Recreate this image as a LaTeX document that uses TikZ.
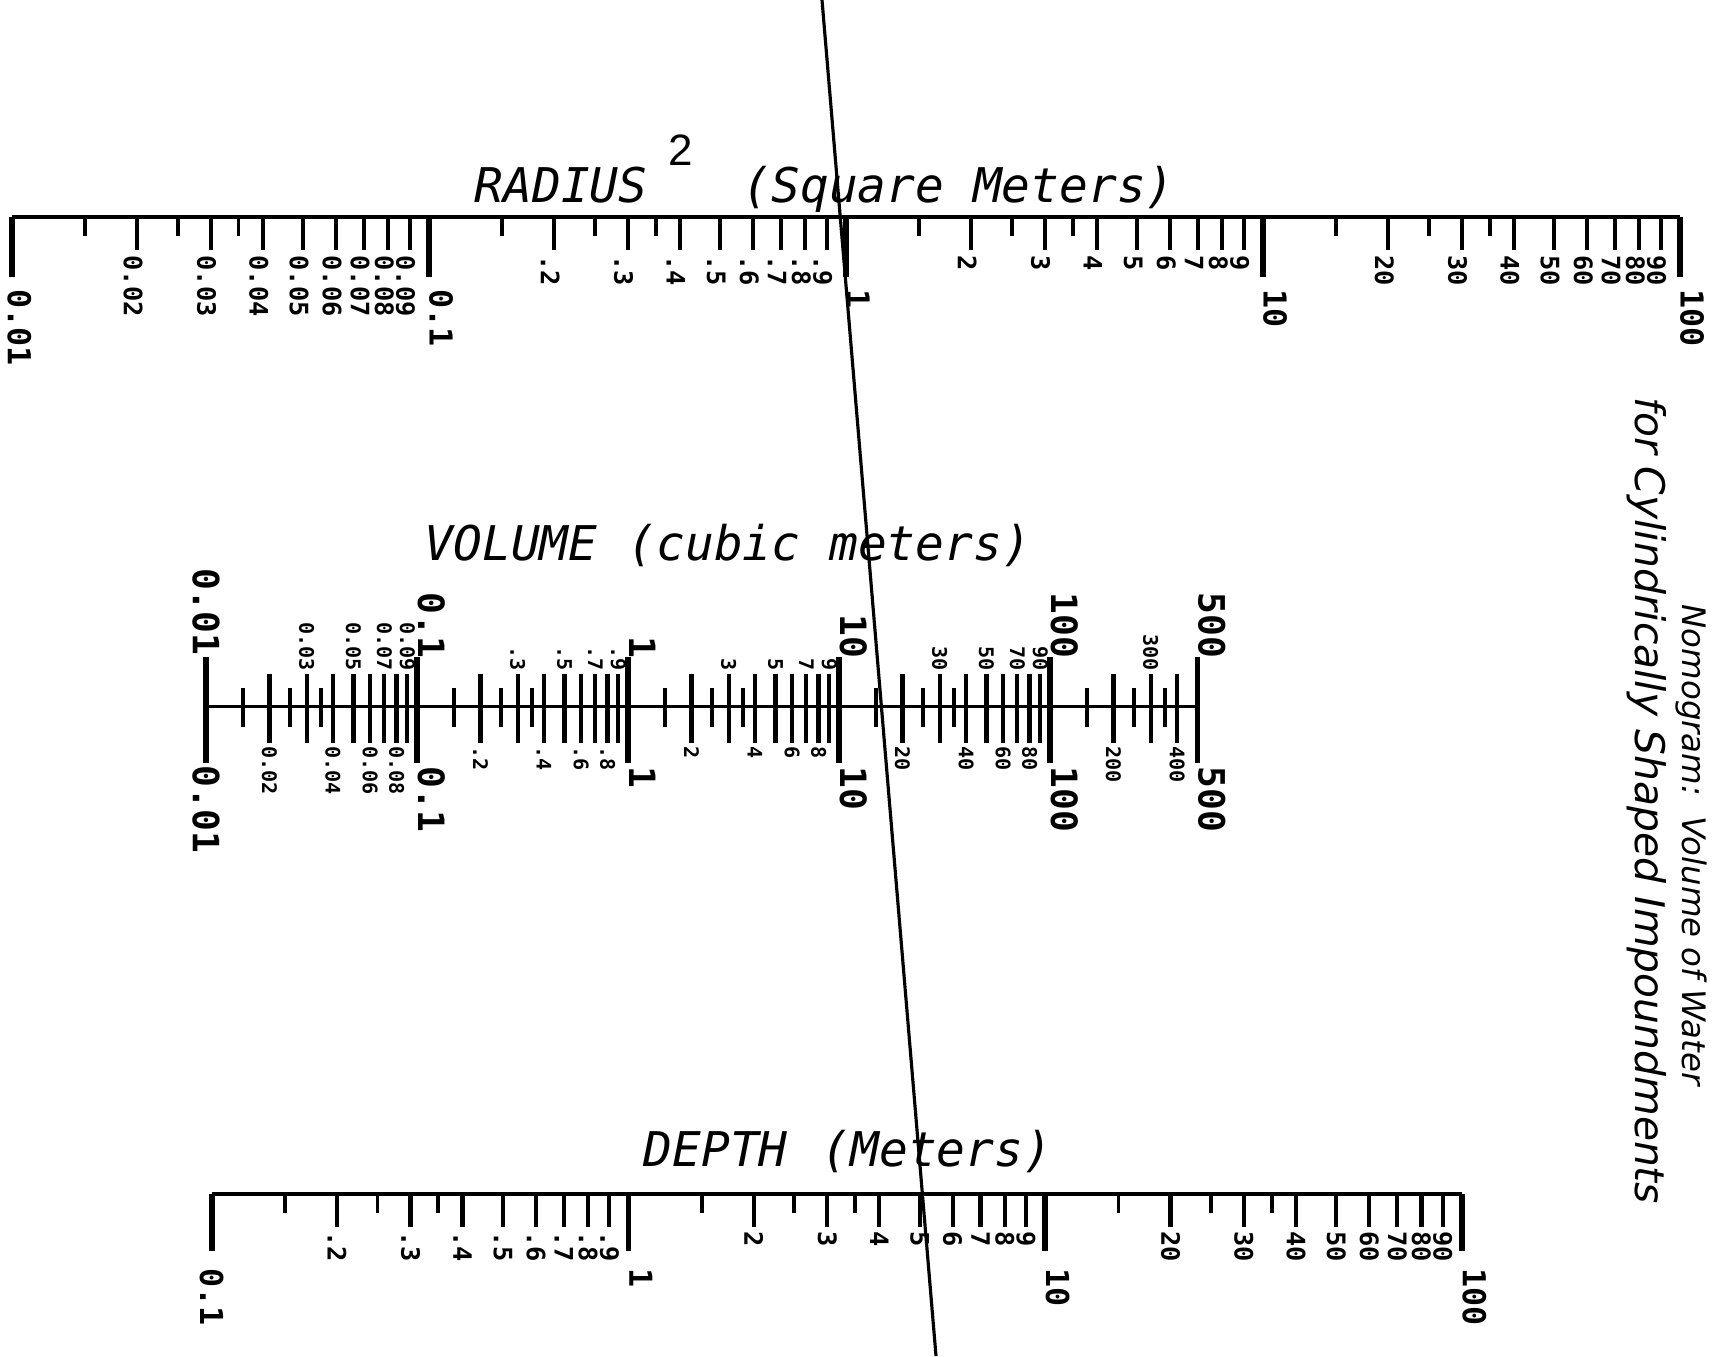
\documentclass[tikz,border=0pt]{standalone}
\usepackage{fontspec}
\setmainfont{DejaVu Sans Mono}[ItalicFont={DejaVu Sans Mono Oblique},BoldFont={DejaVu Sans Mono Bold}]
\newfontfamily\supfont{Liberation Sans}
\newfontfamily\notefont{DejaVu Sans}[ItalicFont={DejaVu Sans Oblique}]

\tikzset{
  axisline/.style={line width=0.9pt},
  minortick/.style={line width=1.1pt},
  majortick/.style={line width=1.2pt},
  decadetick/.style={line width=1.6pt},
  ticklbl/.style={rotate=-90, inner sep=0pt, font=\fontsize{7.2}{8}\selectfont\bfseries},
  declbl/.style={rotate=-90, inner sep=0pt, font=\fontsize{9}{10}\selectfont\bfseries},
  volsmall/.style={rotate=-90, inner sep=0pt, font=\fontsize{5.7}{6}\selectfont\bfseries},
  volbig/.style={rotate=-90, inner sep=0pt, font=\fontsize{10.3}{11}\selectfont\bfseries},
  scaletitle/.style={inner sep=0pt, anchor=base west, font=\fontsize{13.6}{15}\selectfont\itshape},
  nomotitle/.style={rotate=-90, inner sep=0pt, font=\notefont\itshape\fontsize{#1}{13}\selectfont},
}

\begin{document}
\begin{tikzpicture}[x=0.01cm, y=-0.01cm]
\useasboundingbox (0,0) rectangle (1722,1356);

% RADIUS^2 scale
\node[scaletitle] (radtitle) at (474,202) {RADIUS};
\node[inner sep=0pt, font=\supfont\fontsize{12.5}{13}\selectfont] (radsq) at (681,150) {2};
\node[scaletitle] (radunit) at (742,202) {(Square Meters)};
\coordinate (radlo) at (11.7,217);
\coordinate (radhi) at (1680,217);
\draw[axisline] (radlo) -- (radhi);
\foreach \e/\txt in {-1/0.1,0/1,1/10,2/100} {
  \pgfmathsetmacro\tx{845.7+417*\e}
  \draw[decadetick] (\tx,217) -- (\tx,277);
  \node[declbl, anchor=base west] (rad\e) at (\tx+1,289) {\txt};
}
\draw[decadetick] (radlo) -- (11.7,277);
\node[declbl, anchor=base west] (radmin) at (8,289) {0.01};
\foreach \e/\pre/\post in {-2/0.0/{},-1/./{},0/{}/{},1/{}/0} {
  \foreach \m in {2,...,9} {
    \pgfmathsetmacro\tx{845.7+417*(\e+log10(\m))}
    \draw[majortick] (\tx,217) -- (\tx,250);
    \node[ticklbl, anchor=west] (rad\e\m) at (\tx-4,255) {\pre\m\post};
  }
  \foreach \m in {1.5,2.5,3.5} {
    \pgfmathsetmacro\tx{845.7+417*(\e+log10(\m))}
    \draw[minortick] (\tx,217) -- (\tx,236);
  }
}

% VOLUME scale
\node[scaletitle] (voltitle) at (424,560) {VOLUME};
\node[scaletitle] (volunit) at (627,560) {(cubic meters)};
\coordinate (vollo) at (206,706.7);
\coordinate (volhi) at (1197.5,706.7);
\draw[axisline] (vollo) -- (volhi);
\foreach \e/\txt in {-1/0.1,0/1,1/10,2/100,2.699/500} {
  \pgfmathsetmacro\tx{628+211*\e}
  \draw[decadetick] (\tx,656.7) -- (\tx,762.7);
  \node[volbig, anchor=base east] (voltop\e) at (\tx+1,659) {\txt};
  \node[volbig, anchor=base west] (volbot\e) at (\tx+1,766) {\txt};
}
\draw[decadetick] (206,656.7) -- (206,762.7);
\node[volbig, anchor=east] (voltopmin) at (206,656) {0.01};
\node[volbig, anchor=west] (volbotmin) at (206,765) {0.01};
\foreach \e/\pre/\post in {-2/0.0/{},-1/./{},0/{}/{},1/{}/0} {
  \foreach \m in {3,5,7,9} {
    \pgfmathsetmacro\tx{628+211*(\e+log10(\m))}
    \draw[majortick] (\tx,673.7) -- (\tx,742.7);
    \node[volsmall, anchor=east] (volt\e\m) at (\tx,671) {\pre\m\post};
  }
  \foreach \m in {2,4,6,8} {
    \pgfmathsetmacro\tx{628+211*(\e+log10(\m))}
    \draw[majortick] (\tx,673.7) -- (\tx,742.7);
    \node[volsmall, anchor=west] (volb\e\m) at (\tx,746) {\pre\m\post};
  }
}
\foreach \e in {-2,-1,0,1,2} {
  \foreach \m in {1.5,2.5,3.5} {
    \pgfmathsetmacro\tx{628+211*(\e+log10(\m))}
    \draw[minortick] (\tx,688) -- (\tx,726.7);
  }
}
\foreach \m in {2,3,4} {
  \pgfmathsetmacro\tx{628+211*(2+log10(\m))}
  \draw[majortick] (\tx,673.7) -- (\tx,742.7);
}
\node[volsmall, anchor=east] (volt23) at ({628+211*(2+log10(3))},671) {300};
\node[volsmall, anchor=west] (volb22) at ({628+211*(2+log10(2))},746) {200};
\node[volsmall, anchor=west] (volb24) at ({628+211*(2+log10(4))},746) {400};

% DEPTH scale
\node[scaletitle] (deptitle) at (643,1166) {DEPTH};
\node[scaletitle] (depunit) at (821,1166) {(Meters)};
\coordinate (deplo) at (211.7,1194);
\coordinate (dephi) at (1461.8,1194);
\draw[axisline] (deplo) -- (dephi);
\foreach \e/\txt in {0/1,1/10,2/100} {
  \pgfmathsetmacro\tx{628.4+416.7*\e}
  \draw[decadetick] (\tx,1194) -- (\tx,1251);
  \node[declbl, anchor=base west] (dep\e) at (\tx+1,1268) {\txt};
}
\draw[decadetick] (deplo) -- (211.7,1251);
\node[declbl, anchor=west] (depmin) at (211.7,1268) {0.1};
\foreach \e/\pre/\post in {-1/./{},0/{}/{},1/{}/0} {
  \foreach \m in {2,...,9} {
    \pgfmathsetmacro\tx{628.4+416.7*(\e+log10(\m))}
    \draw[majortick] (\tx,1194) -- (\tx,1227);
    \node[ticklbl, anchor=west] (dep\e\m) at (\tx,1231) {\pre\m\post};
  }
  \foreach \m in {1.5,2.5,3.5} {
    \pgfmathsetmacro\tx{628.4+416.7*(\e+log10(\m))}
    \draw[minortick] (\tx,1194) -- (\tx,1213);
  }
}

% index line
\coordinate (idxtop) at (822,0);
\coordinate (idxbot) at (936,1356);
\draw[line width=0.9pt] (idxtop) -- (idxbot);

% title
\node[nomotitle=9.2] (nomoa) at (1691,845) {Nomogram:\ \ Volume of Water};
\node[nomotitle=11.6] (nomob) at (1647,801) {for Cylindrically Shaped Impoundments};
\end{tikzpicture}
\end{document}
